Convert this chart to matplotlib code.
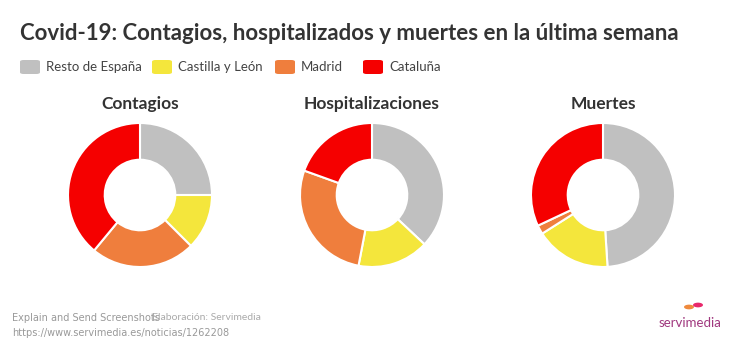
import matplotlib as mpl
mpl.use('Agg')
import matplotlib.pyplot as plt

regions = ['Resto de España', 'Castilla y León', 'Madrid', 'Cataluña']
colors = ['#c0c0c0', '#f4e63c', '#ef7e3d', '#f50000']
panels = ['Contagios', 'Hospitalizaciones', 'Muertes']
contagios = [25.0, 12.5, 23.5, 39.0]
hospitalizaciones = [37.0, 16.0, 27.5, 19.5]
muertes = [49.0, 17.0, 2.0, 32.0]
values = [contagios, hospitalizaciones, muertes]

W, H = 744, 352
fig = plt.figure(figsize=(W / 100, H / 100), dpi=100)
fig.patch.set_facecolor('white')

def px(x, y):
    return x / W, 1 - y / H

font = 'Lato'
fig.text(*px(20, 33), 'Covid-19: Contagios, hospitalizados y muertes en la última semana',
         fontsize=16, fontweight='bold', color='#333333', family=font, va='center')

# legend
leg_x = [20, 152, 275, 363]
for x, lab, c in zip(leg_x, regions, colors):
    fig.patches.append(mpl.patches.FancyBboxPatch(
        (x / W, 1 - 74 / H), 20 / W, 14 / H, boxstyle='round,pad=0,rounding_size=0.005',
        transform=fig.transFigure, facecolor=c, edgecolor='none'))
    fig.text(*px(x + 26, 67), lab, fontsize=9.5, color='#444444', family=font, va='center')

centers = [140, 372, 603]
r = 72
for cx, title, vals in zip(centers, panels, values):
    fig.text(*px(cx, 104), title, fontsize=12.5, fontweight='bold', color='#333333',
             family=font, ha='center', va='center')
    ax = fig.add_axes([(cx - r) / W, 1 - (195 + r) / H, 2 * r / W, 2 * r / H])
    ax.pie(vals, colors=colors, startangle=90, counterclock=False,
           wedgeprops=dict(width=0.51, edgecolor='white', linewidth=1.5))
    ax.set_xlim(-1, 1)
    ax.set_ylim(-1, 1)
    ax.set_aspect('equal')

# footer
fig.text(*px(12, 318), 'Explain and Send Screenshots',
         fontsize=7, color='#999999', family='DejaVu Sans', va='center')
fig.text(*px(152, 318), 'Elaboración: Servimedia',
         fontsize=7.5, color='#aaaaaa', family=font, va='center')
fig.text(*px(12, 333), 'https://www.servimedia.es/noticias/1262208',
         fontsize=7, color='#999999', family='DejaVu Sans', va='center')

# logo
fig.text(*px(690, 323), 'servimedia', fontsize=9.5, color='#a0387f', family=font,
         ha='center', va='center')
fig.patches.append(mpl.patches.Circle(px(689, 307), 5 / W, transform=fig.transFigure,
                                      facecolor='#ef8a3d', edgecolor='none'))
fig.patches.append(mpl.patches.Circle(px(698, 305), 5 / W, transform=fig.transFigure,
                                      facecolor='#e8286b', edgecolor='none'))

fig.savefig('out.png', dpi=100, facecolor='white')
